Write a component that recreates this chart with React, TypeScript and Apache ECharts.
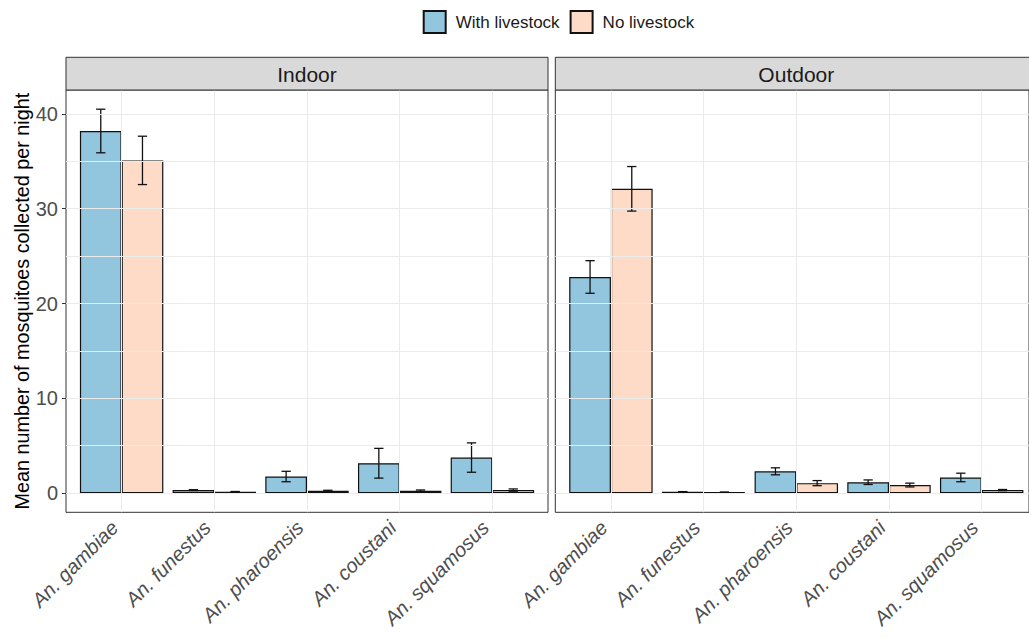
import React, { useEffect, useRef } from "react";
import * as echarts from "echarts";

const categories = ["An. gambiae", "An. funestus", "An. pharoensis", "An. coustani", "An. squamosus"];
const seriesNames = ["With livestock", "No livestock"];
const panels = ["Indoor", "Outdoor"];

const indoorWith = [38.2, 0.32, 1.75, 3.15, 3.75];
const indoorWithSE = [2.3, 0.04, 0.55, 1.57, 1.55];
const indoorNo = [35.1, 0.14, 0.24, 0.25, 0.32];
const indoorNoSE = [2.55, 0.03, 0.06, 0.08, 0.12];
const outdoorWith = [22.8, 0.14, 2.3, 1.15, 1.65];
const outdoorWithSE = [1.72, 0.02, 0.37, 0.24, 0.45];
const outdoorNo = [32.1, 0.09, 1.05, 0.85, 0.32];
const outdoorNoSE = [2.35, 0.02, 0.27, 0.2, 0.06];

const yTicks = [0, 10, 20, 30, 40];
const yMinorGrid = [5, 15, 25, 35];
const yMin = -2.025;
const yMax = 42.525;

const COLORS = ["#92c5de", "#fddbc7"];
const FONT = "Liberation Sans, Arial, sans-serif";

export default function App() {
  const ref = useRef<HTMLDivElement>(null);
  useEffect(() => {
    document.body.style.margin = "0";
    if (!ref.current) return;
    const chart = echarts.init(ref.current, null, { renderer: "svg" });

    const W = 482;
    const TOP = 90;
    const H = 422.3;
    const lefts = [66, 555.3];
    const u = W / 5.2;

    const grids: any[] = [];
    const xAxes: any[] = [];
    const yAxes: any[] = [];
    const series: any[] = [];
    const graphics: any[] = [];

    const panelData = [
      [indoorWith, indoorWithSE, indoorNo, indoorNoSE],
      [outdoorWith, outdoorWithSE, outdoorNo, outdoorNoSE],
    ];

    panels.forEach((pname, p) => {
      const L = lefts[p];
      const outer = p * 2;
      const inner = p * 2 + 1;
      grids.push({
        left: L, top: TOP, width: W, height: H,
        show: true, borderColor: "#333333", borderWidth: 1, backgroundColor: "transparent",
        containLabel: false,
      });
      grids.push({
        left: L + 0.1 * u, top: TOP, width: 5 * u, height: H, containLabel: false,
      });
      xAxes.push({ type: "value", gridIndex: outer, min: 0, max: 1, show: false });
      xAxes.push({
        type: "category", gridIndex: inner, data: categories,
        axisLine: { show: false },
        axisTick: { show: true, alignWithLabel: true, length: 4, lineStyle: { color: "#333333", width: 1 } },
        splitLine: { show: false },
        axisLabel: {
          rotate: 45, fontStyle: "italic", fontSize: 20, color: "#4d4d4d", fontFamily: FONT,
          margin: 19, interval: 0, align: "right", verticalAlign: "bottom",
        },
      });
      yAxes.push({
        type: "value", gridIndex: outer, min: yMin, max: yMax,
        splitLine: { show: false },
        axisLine: { show: false },
        axisTick: { show: p === 0, length: 4, customValues: yTicks, lineStyle: { color: "#333333", width: 1 } },
        axisLabel: { show: p === 0, customValues: yTicks, fontSize: 20, color: "#4d4d4d", fontFamily: FONT, margin: 8 },
        name: p === 0 ? "Mean number of mosquitoes collected per night" : "",
        nameLocation: "middle",
        nameGap: 32,
        nameTextStyle: { fontSize: 19.8, color: "#000", fontFamily: FONT },
      });
      yAxes.push({ type: "value", gridIndex: inner, min: yMin, max: yMax, show: false });

      // gridlines
      series.push({
        type: "line", xAxisIndex: outer, yAxisIndex: outer, data: [], z: 0, silent: true,
        markLine: {
          silent: true, symbol: "none", label: { show: false }, animation: false,
          lineStyle: { color: "#ebebeb", width: 1, type: "solid" },
          data: [...yTicks, ...yMinorGrid].map((v) => ({ yAxis: v })),
        },
      });
      series.push({
        type: "line", xAxisIndex: inner, yAxisIndex: inner, data: [], z: 0, silent: true,
        markLine: {
          silent: true, symbol: "none", label: { show: false }, animation: false,
          lineStyle: { color: "#ebebeb", width: 1, type: "solid" },
          data: categories.map((c) => ({ xAxis: c })),
        },
      });

      const [wv, wse, nv, nse] = panelData[p];
      [wv, nv].forEach((vals, s) => {
        series.push({
          type: "bar", name: seriesNames[s], xAxisIndex: inner, yAxisIndex: inner,
          data: vals, barGap: "0%", barCategoryGap: "10%", z: 2,
          itemStyle: { color: COLORS[s], borderColor: "#111111", borderWidth: 1.2 },
        });
      });
      const ebData: any[] = [];
      [[wv, wse], [nv, nse]].forEach(([vals, se], s) => {
        vals.forEach((v, i) => {
          ebData.push([i, v - se[i], v + se[i], s === 0 ? -1 : 1]);
        });
      });
      series.push({
        type: "custom", xAxisIndex: inner, yAxisIndex: inner, z: 3, silent: true,
        data: ebData,
        encode: { x: 0, y: [1, 2] },
        renderItem: (params: any, api: any) => {
          const cat = api.value(0);
          const lo = api.value(1);
          const hi = api.value(2);
          const side = api.value(3);
          const bw = api.size([1, 0])[0];
          const pLo = api.coord([cat, lo]);
          const pHi = api.coord([cat, hi]);
          const x = pLo[0] + side * bw * 0.225;
          const cap = bw * 0.05;
          const st = { stroke: "#111111", lineWidth: 1.3 };
          return {
            type: "group",
            children: [
              { type: "line", shape: { x1: x, y1: pLo[1], x2: x, y2: pHi[1] }, style: st },
              { type: "line", shape: { x1: x - cap, y1: pLo[1], x2: x + cap, y2: pLo[1] }, style: st },
              { type: "line", shape: { x1: x - cap, y1: pHi[1], x2: x + cap, y2: pHi[1] }, style: st },
            ],
          };
        },
      });

      graphics.push({
        type: "rect", shape: { x: L, y: 57.3, width: W, height: TOP - 57.3 },
        style: { fill: "#d9d9d9", stroke: "#333333", lineWidth: 1 }, z: 10,
      });
      graphics.push({
        type: "text", x: L + W / 2, y: 74, z: 11,
        style: { text: pname, fontSize: 21, fill: "#1a1a1a", align: "center", verticalAlign: "middle", fontFamily: FONT },
      });
    });

    chart.setOption({
      animation: false,
      backgroundColor: "#ffffff",
      textStyle: { fontFamily: FONT },
      legend: {
        data: seriesNames, left: 422.7, top: 10, padding: 0, itemGap: 10,
        itemWidth: 22, itemHeight: 22, icon: "rect",
        textStyle: { fontSize: 17, color: "#1a1a1a", fontFamily: FONT, padding: [0, 0, 0, 5] },
      },
      grid: grids,
      xAxis: xAxes,
      yAxis: yAxes,
      series,
      graphic: graphics,
    });
    return () => chart.dispose();
  }, []);
  return <div ref={ref} style={{ width: 1029, height: 638 }} />;
}
